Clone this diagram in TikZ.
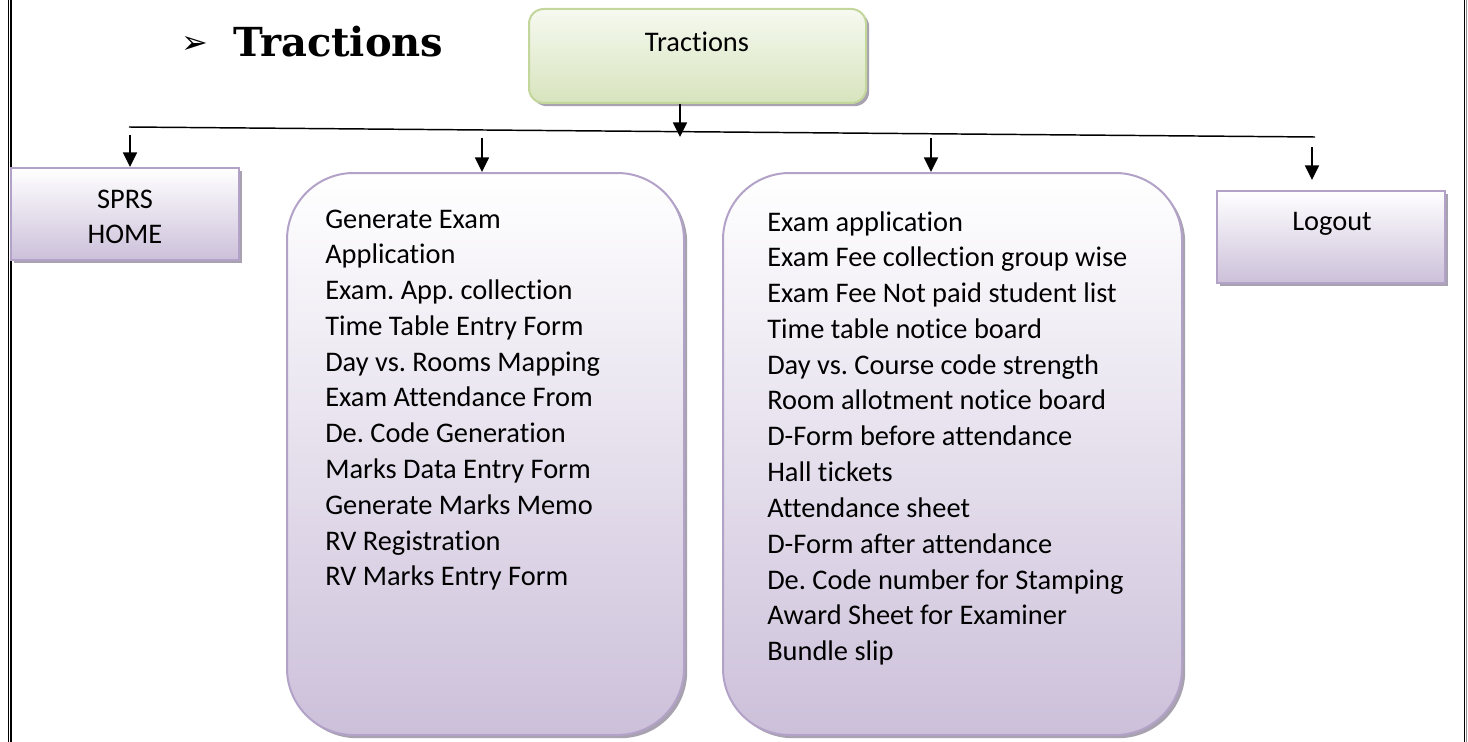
\documentclass[tikz,border=0pt]{standalone}
\usepackage{fontspec}
\setmainfont{Carlito}[Ligatures=NoCommon]
\newfontfamily\titlefont{DejaVu Serif}
\newfontfamily\dingfont{DejaVu Sans}
\usetikzlibrary{arrows.meta,shadows}
\frenchspacing
\definecolor{grnTop}{HTML}{F6F9F0}
\definecolor{grnBot}{HTML}{D7E4BD}
\definecolor{grnLine}{HTML}{C3D69B}
\definecolor{purBot}{HTML}{CCC0DA}
\definecolor{purLine}{HTML}{B3A2C7}
\definecolor{shad}{HTML}{A8A2B0}
\tikzset{
  shd/.style={drop shadow={shadow xshift=2.4pt,shadow yshift=-2.4pt,fill=shad,opacity=1}},
  grnbox/.style={draw=grnLine,line width=1.5pt,rounded corners=11pt,top color=grnTop,bottom color=grnBot,shd,inner sep=0pt},
  purbox/.style={draw=purLine,line width=1.5pt,top color=white,bottom color=purBot,shd,inner sep=0pt},
  smallbox/.style={purbox,minimum width=171pt,minimum height=69pt},
  bigbox/.style={purbox,rounded corners=50pt,minimum height=421.5pt},
  txt/.style={inner sep=0pt,font=\fontsize{21.3}{26.85}\selectfont},
  arr/.style={-{Triangle[width=10.5pt,length=11pt]},line width=1.3pt},
  rulel/.style={line width=1.1pt},
  framel/.style={line width=0.8pt},
}
\begin{document}
\begin{tikzpicture}[x=0.75pt,y=-0.75pt]
\useasboundingbox (0,0) rectangle (1468,742);
% page frame
\draw[framel] (8.5,0) -- (8.5,742);
\draw[framel] (11,0) -- (11,742);
\draw[framel] (1464.5,0) -- (1464.5,742);
\draw[framel,black!45] (1466.8,0) -- (1466.8,742);

% title
\node[inner sep=0pt,font=\dingfont\fontsize{24}{24}\selectfont] (bullet) at (195,45) {➢};
\node[inner sep=0pt,anchor=base west,font=\titlefont\bfseries\fontsize{30}{31}\selectfont] (title) at (233,57) {Tractions};

% root
\node[grnbox,minimum width=252.75pt,minimum height=70.5pt] (root) at (697.5,56) {};
\node[txt,anchor=base] (rootlbl) at (697,52) {Tractions};

% boxes
\node[smallbox] (sprs) at (124.5,214) {};
\node[txt,anchor=base] (sprslbl) at (125,208) {\parbox[t]{150pt}{\centering SPRS\\HOME}};
\node[smallbox] (logout) at (1330.5,237) {};
\node[txt,anchor=base] (logoutlbl) at (1332,230) {Logout};
\node[bigbox,minimum width=297.75pt] (box2) at (485.5,454) {};
\node[bigbox,minimum width=344.25pt] (box3) at (952.5,454) {};

\node[txt,anchor=base west] (list2) at (325,228) {\parbox[t]{300pt}{\raggedright
Generate Exam\\
Application\\
Exam. App. collection\\
Time Table Entry Form\\
Day vs. Rooms Mapping\\
Exam Attendance From\\
De. Code Generation\\
Marks Data Entry Form\\
Generate Marks Memo\\
RV Registration\\
RV Marks Entry Form}};

\node[txt,anchor=base west] (list3) at (767,231) {\parbox[t]{330pt}{\raggedright
Exam application\\
Exam Fee collection group wise\\
Exam Fee Not paid student list\\
Time table notice board\\
Day vs. Course code strength\\
Room allotment notice board\\
D-Form before attendance\\
Hall tickets\\
Attendance sheet\\
D-Form after attendance\\
De. Code number for Stamping\\
Award Sheet for Examiner\\
Bundle slip}};

% connectors
\coordinate (hl) at (129,127);
\coordinate (hr) at (1315,137);
\draw[rulel] (hl) -- (hr);
\coordinate (rootdrop) at (680,137);
\draw[arr] (root.south -| rootdrop) -- (rootdrop);
\coordinate (a1) at (130,135);
\draw[arr] (a1) -- (a1 |- sprs.north);
\coordinate (a2) at (482,138);
\draw[arr] (a2) -- (a2 |- box2.north);
\coordinate (a3) at (931,138);
\draw[arr] (a3) -- (a3 |- box3.north);
\coordinate (a4) at (1312,147);
\coordinate (a4e) at (1312,180);
\draw[arr] (a4) -- (a4e);
\end{tikzpicture}
\end{document}
